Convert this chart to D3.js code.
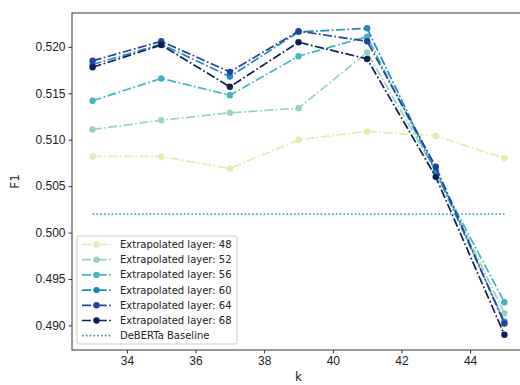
<!DOCTYPE html>
<meta charset="utf-8">
<html>
<head>
<title>F1 vs k</title>
<style>
body { margin: 0; background: #fff; }
svg { font-family: "DejaVu Sans", sans-serif; }
.axis path, .axis line { stroke: #333; }
.axis text { font-size: 12px; fill: #222; }
</style>
</head>
<body>
<svg width="520" height="385"></svg>
<script src="https://d3js.org/d3.v7.min.js"></script>
<script>

var ks = [33, 35, 37, 39, 41, 43, 45];
var layers = [48, 52, 56, 60, 64, 68];
var colors = ["#dcf0b0", "#97d5bb", "#41b6c4", "#1f8bbf", "#2541a0", "#0b1f5a"];

var f1_48 = [0.5082, 0.5082, 0.5069, 0.5100, 0.5109, 0.5104, 0.5080];
var f1_52 = [0.5111, 0.5121, 0.5129, 0.5134, 0.5194, 0.5066, 0.4913];
var f1_56 = [0.5142, 0.5166, 0.5148, 0.5190, 0.5211, 0.5065, 0.4925];
var f1_60 = [0.5181, 0.5203, 0.5168, 0.5216, 0.5220, 0.5066, 0.4904];
var f1_64 = [0.5185, 0.5206, 0.5173, 0.5217, 0.5206, 0.5071, 0.4902];
var f1_68 = [0.5178, 0.5202, 0.5157, 0.5205, 0.5187, 0.5060, 0.4890];
var series = [f1_48, f1_52, f1_56, f1_60, f1_64, f1_68];
var baseline = 0.5020;

var xTicks = [34, 36, 38, 40, 42, 44];
var yTicks = [0.490, 0.495, 0.500, 0.505, 0.510, 0.515, 0.520];

var svg = d3.select("svg"),
    margin = {top: 13, right: -5, bottom: 35, left: 72},
    width = +svg.attr("width") - margin.left - margin.right,
    height = +svg.attr("height") - margin.top - margin.bottom,
    g = svg.append("g").attr("transform", "translate(" + margin.left + "," + margin.top + ")");

var x = d3.scaleLinear().domain([32.4, 45.6]).range([0, width]);
var y = d3.scaleLinear().domain([0.48735, 0.52365]).range([height, 0]);

// frame
g.append("rect")
    .attr("width", width).attr("height", height)
    .attr("fill", "none").attr("stroke", "#333").attr("stroke-width", 1);

g.append("g")
    .attr("class", "axis")
    .attr("transform", "translate(0," + height + ")")
    .call(d3.axisBottom(x).tickValues(xTicks).tickSize(3.5).tickPadding(3).tickFormat(d3.format("d")))
    .call(function(a) { a.select(".domain").remove(); });

g.append("g")
    .attr("class", "axis")
    .call(d3.axisLeft(y).tickValues(yTicks).tickSize(3.5).tickPadding(3).tickFormat(d3.format(".3f")))
    .call(function(a) { a.select(".domain").remove(); });

g.append("text")
    .attr("x", x(39)).attr("y", height + 31)
    .attr("text-anchor", "middle").attr("font-size", 12).attr("fill", "#222")
    .text("k");

g.append("text")
    .attr("transform", "translate(-53," + (height / 2) + ") rotate(-90)")
    .attr("text-anchor", "middle").attr("font-size", 12).attr("fill", "#222")
    .text("F1");

var line = d3.line()
    .x(function(d, i) { return x(ks[i]); })
    .y(function(d) { return y(d); });

series.forEach(function(s, j) {
  g.append("path")
      .datum(s)
      .attr("d", line)
      .attr("fill", "none")
      .attr("stroke", colors[j])
      .attr("stroke-width", 1.7)
      .attr("stroke-dasharray", "9,2.5,1.7,2.5");
  g.selectAll(".pt" + j)
      .data(s)
    .enter().append("circle")
      .attr("cx", function(d, i) { return x(ks[i]); })
      .attr("cy", function(d) { return y(d); })
      .attr("r", 3.2)
      .attr("fill", colors[j]);
});

g.append("line")
    .attr("x1", x(33)).attr("x2", x(45))
    .attr("y1", y(baseline)).attr("y2", y(baseline))
    .attr("stroke", "#2a9bc6").attr("stroke-width", 1.7)
    .attr("stroke-dasharray", "1.7,2.1");

// legend
var legend = g.append("g").attr("transform", "translate(5,223)");
legend.append("rect")
    .attr("width", 160).attr("height", 108).attr("rx", 2)
    .attr("fill", "#fff").attr("fill-opacity", 0.8)
    .attr("stroke", "#ccc").attr("stroke-width", 1);

var labels = layers.map(function(l) { return "Extrapolated layer: " + l; }).concat(["DeBERTa Baseline"]);
var item = legend.selectAll(".item")
    .data(labels)
  .enter().append("g")
    .attr("transform", function(d, i) { return "translate(0," + (8.5 + i * 15.2) + ")"; });

item.append("line")
    .attr("x1", 5).attr("x2", 34)
    .attr("stroke", function(d, i) { return i < 6 ? colors[i] : "#2a9bc6"; })
    .attr("stroke-width", 1.7)
    .attr("stroke-dasharray", function(d, i) { return i < 6 ? "9,2.5,1.7,2.5" : "1.7,2.1"; });

item.filter(function(d, i) { return i < 6; }).append("circle")
    .attr("cx", 19.5).attr("r", 3.2)
    .attr("fill", function(d, i) { return colors[i]; });

item.append("text")
    .attr("x", 43).attr("dy", "0.35em")
    .attr("font-size", 10).attr("fill", "#222")
    .text(function(d) { return d; });

</script>
</body>
</html>
